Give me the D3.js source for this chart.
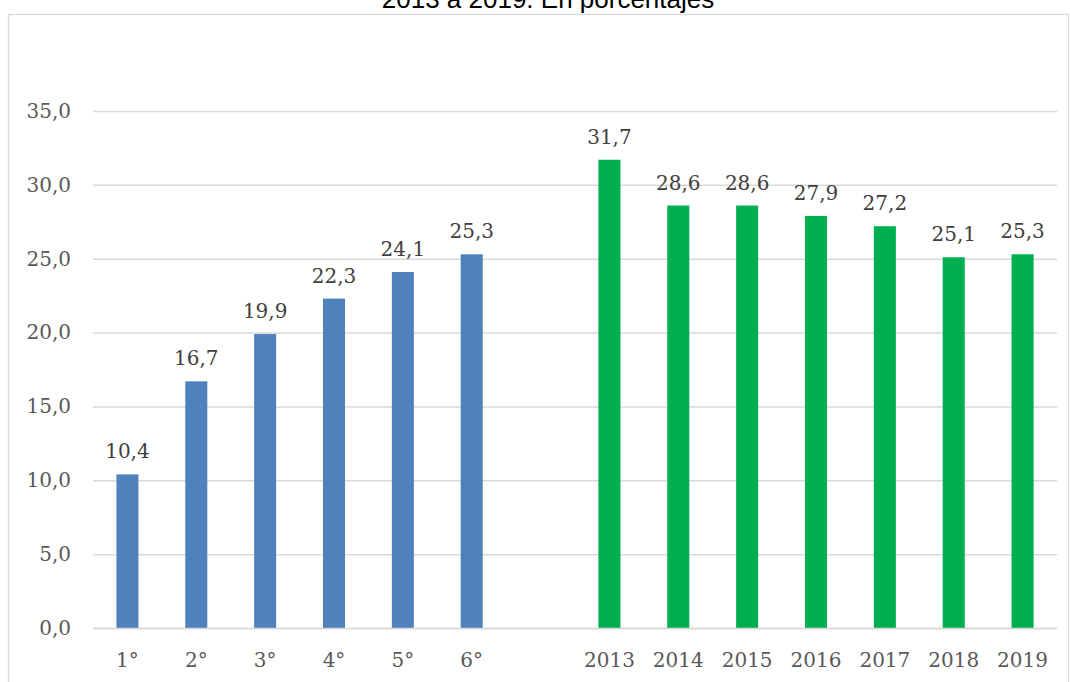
<!DOCTYPE html>
<html>
<head>
<meta charset="utf-8">
<script src="https://cdn.jsdelivr.net/npm/d3@7"></script>
<style>
  html, body { margin: 0; padding: 0; background: #fff; }
  svg { display: block; }
</style>
</head>
<body>
<svg id="chart" width="1070" height="682"></svg>
<script>
// ---- data ----
const gradeLabels = ["1°", "2°", "3°", "4°", "5°", "6°"];
const gradeValues = [10.4, 16.7, 19.9, 22.3, 24.1, 25.3];
const yearLabels = ["2013", "2014", "2015", "2016", "2017", "2018", "2019"];
const yearValues = [31.7, 28.6, 28.6, 27.9, 27.2, 25.1, 25.3];
const yTicks = [0, 5, 10, 15, 20, 25, 30, 35];
const titleText = "2013 a 2019. En porcentajes";
const gapKey = " ";

const categories = [...gradeLabels, gapKey, ...yearLabels];
const bars = [
  ...gradeLabels.map((c, i) => ({ cat: c, value: gradeValues[i], group: "grade" })),
  ...yearLabels.map((c, i) => ({ cat: c, value: yearValues[i], group: "year" }))
];
const colors = { grade: "#4F81BD", year: "#00B050" };

const svg = d3.select("#chart");
const serif = "'DejaVu Serif', serif";

// frame
svg.append("rect")
  .attr("x", 8.5).attr("y", 14.5)
  .attr("width", 1060).attr("height", 700)
  .attr("fill", "none").attr("stroke", "#D9D9D9").attr("stroke-width", 1.3);

// title (cut off at top, as in the reference)
svg.append("text")
  .attr("x", 548).attr("y", 8)
  .attr("text-anchor", "middle")
  .attr("font-family", "'Liberation Sans', Arial, sans-serif")
  .attr("font-size", 26)
  .attr("fill", "#000")
  .text(titleText);

const x = d3.scaleBand()
  .domain(categories)
  .range([93, 1057])
  .paddingInner(0.68)
  .paddingOuter(0.34);

const y = d3.scaleLinear().domain([0, 35]).range([628, 111]);

const fmt = v => d3.format(".1f")(v).replace(".", ",");

// y axis with gridlines
const yAxis = svg.append("g")
  .attr("transform", "translate(93,0)")
  .call(d3.axisLeft(y).tickValues(yTicks).tickFormat(fmt).tickSize(-964).tickPadding(22));
yAxis.select(".domain").remove();
yAxis.selectAll(".tick line").attr("stroke", "#D9D9D9").attr("stroke-width", 1.5);
yAxis.selectAll(".tick text")
  .attr("font-family", serif).attr("font-size", 20).attr("fill", "#595959");

// bars
svg.append("g").selectAll("rect")
  .data(bars)
  .join("rect")
  .attr("x", d => x(d.cat))
  .attr("y", d => y(d.value))
  .attr("width", x.bandwidth())
  .attr("height", d => y(0) - y(d.value))
  .attr("fill", d => colors[d.group]);

// x axis
const xAxis = svg.append("g")
  .attr("transform", "translate(0,628)")
  .call(d3.axisBottom(x).tickSize(0).tickPadding(25).tickSizeOuter(0));
xAxis.select(".domain").attr("stroke", "#D9D9D9").attr("stroke-width", 1.5);
xAxis.selectAll(".tick text")
  .attr("font-family", serif).attr("font-size", 20).attr("fill", "#595959");

// value labels
svg.append("g").selectAll("text")
  .data(bars)
  .join("text")
  .attr("x", d => x(d.cat) + x.bandwidth() / 2)
  .attr("y", d => y(d.value) - 16)
  .attr("text-anchor", "middle")
  .attr("font-family", serif).attr("font-size", 20).attr("fill", "#404040")
  .text(d => fmt(d.value));
</script>
</body>
</html>
